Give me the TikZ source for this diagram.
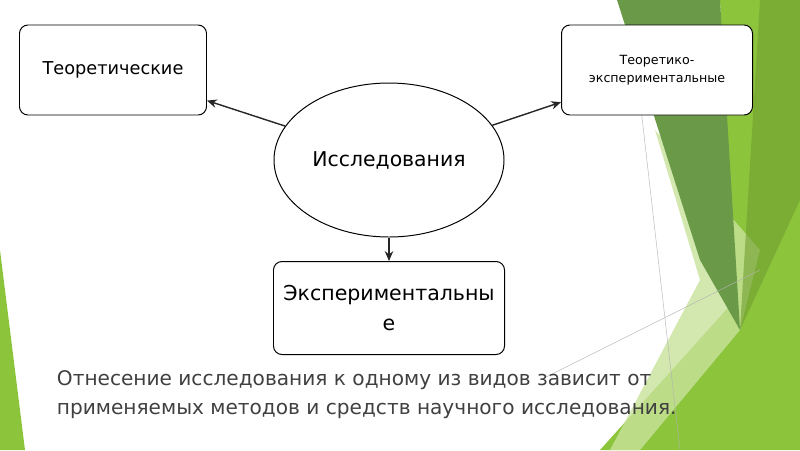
\documentclass[tikz,border=0pt]{standalone}
\usepackage{fontspec}
\setmainfont{DejaVu Sans}
\usetikzlibrary{shapes.geometric,arrows.meta}
\definecolor{leafdark}{HTML}{6A9A48}
\definecolor{leaf}{HTML}{8CC43C}
\definecolor{leaflight}{HTML}{C8E29A}
\definecolor{ink}{HTML}{404040}
\tikzset{
  box/.style={draw, rounded corners=6pt, fill=white, line width=0.7pt, align=center},
  link/.style={-{Stealth[length=7pt,width=6pt]}, line width=1pt, draw=black!85}
}
\begin{document}
\begin{tikzpicture}[x=0.025cm,y=-0.025cm]
  \useasboundingbox (0,0) rectangle (800,450);
  % background leaves
  \fill[leaf] (0,250) -- (25,450) -- (0,450) -- cycle;
  \fill[leaf] (720,0) -- (800,0) -- (800,450) -- (600,450) -- (735,300) -- cycle;
  \fill[leaflight, opacity=0.8] (655,130) -- (760,250) -- (740,330) -- (640,450) -- (610,450) -- (700,280) -- cycle;
  \fill[leafdark] (617,0) -- (720,0) -- (740,330) -- (700,260) -- cycle;
  \fill[leaf!80!black, opacity=0.6] (760,0) -- (800,0) -- (800,200) -- (740,330) -- cycle;
  \draw[gray!60, line width=0.3pt] (640,100) -- (680,450);
  \draw[gray!60, line width=0.3pt] (540,380) -- (760,270);

  \node[box, minimum width=187*0.025cm, minimum height=90*0.025cm, font=\fontsize{12.6}{14}\selectfont] (theor) at (113,70) {Теоретические};
  \node[box, minimum width=191*0.025cm, minimum height=90*0.025cm, font=\fontsize{9}{13}\selectfont] (mixed) at (657,70) {Теоретико-\\экспериментальные};
  \node[draw, ellipse, fill=white, line width=0.7pt, minimum width=230*0.025cm, minimum height=154*0.025cm, font=\fontsize{14.5}{16}\selectfont] (study) at (389,160) {Исследования};
  \node[box, minimum width=231*0.025cm, minimum height=93*0.025cm, font=\fontsize{14.6}{21}\selectfont] (exper) at (389,308) {Экспериментальны\\е};

  \draw[link] (study) -- (theor);
  \draw[link] (study) -- (mixed);
  \draw[link] (study) -- (exper);

  \node[anchor=north west, align=left, text=ink, font=\fontsize{14.3}{20}\selectfont] (note) at (52,366)
    {Отнесение исследования к одному из видов зависит от\\применяемых методов и средств научного исследования.};
\end{tikzpicture}
\end{document}
